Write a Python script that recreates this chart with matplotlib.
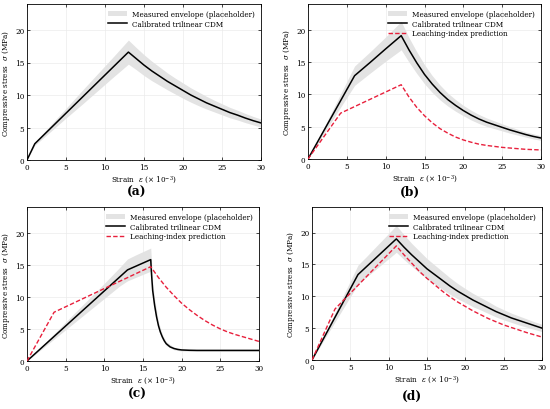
import matplotlib
matplotlib.use("Agg")
import matplotlib.pyplot as plt

# ---------------- data ----------------
# (a)
a_x = [0, 1, 3, 5, 7, 9, 11, 13, 14, 15, 16, 17, 18, 19, 20, 21, 22, 23, 24, 25, 26, 27, 28, 29, 30]
a_cdm = [0, 2.5, 4.85, 7.2, 9.55, 11.9, 14.25, 16.6, 15.6, 14.6, 13.7, 12.9, 12.1, 11.4, 10.7, 10.0,
         9.4, 8.8, 8.3, 7.8, 7.3, 6.9, 6.45, 6.05, 5.7]
a_hi = [0, 2.75, 5.35, 7.95, 10.6, 13.2, 15.8, 18.45, 17.3, 16.2, 15.2, 14.3, 13.4, 12.6, 11.85, 11.1,
        10.45, 9.8, 9.2, 8.65, 8.1, 7.65, 7.15, 6.7, 6.3]
a_lo = [0, 2.25, 4.35, 6.45, 8.5, 10.6, 12.7, 14.75, 13.9, 13.0, 12.2, 11.5, 10.8, 10.15, 9.5, 8.9,
        8.35, 7.85, 7.4, 6.95, 6.5, 6.15, 5.75, 5.4, 5.05]

# (b)
b_x = [0, 2, 4, 6, 8, 10, 12, 13, 14, 15, 16, 17, 18, 19, 20, 21, 22, 23, 24, 25, 26, 27, 28, 29, 30]
b_cdm = [0, 4.3, 8.6, 12.9, 14.95, 17.05, 19.1, 16.9, 14.9, 13.1, 11.6, 10.3, 9.2, 8.3, 7.5, 6.8,
         6.2, 5.7, 5.3, 4.9, 4.5, 4.15, 3.8, 3.5, 3.25]
b_hi = [0, 4.75, 9.6, 14.4, 16.6, 18.9, 21.3, 18.8, 16.6, 14.6, 12.9, 11.45, 10.2, 9.2, 8.3, 7.55,
        6.9, 6.35, 5.9, 5.45, 5.0, 4.6, 4.2, 3.9, 3.6]
b_lo = [0, 3.85, 7.65, 11.4, 13.3, 15.15, 16.9, 15.0, 13.25, 11.65, 10.3, 9.15, 8.2, 7.4, 6.7, 6.05,
        5.5, 5.05, 4.7, 4.35, 4.0, 3.7, 3.4, 3.1, 2.9]
b_lx = [0, 4.2, 12, 13, 14, 15, 16, 17, 18, 19, 20, 21, 22, 23, 24, 25, 26, 27, 28, 29, 30]
b_li = [0, 7.1, 11.5, 9.6, 8.0, 6.7, 5.6, 4.7, 4.0, 3.4, 2.95, 2.6, 2.3, 2.1, 1.95, 1.8, 1.7, 1.6,
        1.5, 1.45, 1.4]

# (c)
c_x = [0, 13, 16, 16.1, 16.25, 16.5, 16.75, 17, 17.25, 17.5, 17.75, 18, 18.5, 19, 19.5, 20, 21, 22,
       24, 26, 28, 30]
c_cdm = [0, 14.2, 15.8, 13.6, 11.0, 8.7, 6.9, 5.5, 4.5, 3.75, 3.15, 2.7, 2.2, 1.95, 1.8, 1.72, 1.67,
         1.65, 1.65, 1.65, 1.65, 1.65]
c_ex = [0, 2, 4, 6, 8, 10, 12, 13, 14, 15, 16, 16.25, 16.5, 17, 17.5, 18, 19, 20, 22, 25, 30]
c_hi = [0, 2.4, 4.85, 7.3, 9.7, 12.1, 14.6, 15.9, 16.5, 17.05, 17.6, 12.3, 9.7, 6.1, 4.15, 3.0, 2.15,
        1.9, 1.8, 1.8, 1.8]
c_lo = [0, 1.95, 3.9, 5.85, 7.8, 9.75, 11.7, 12.5, 13.0, 13.5, 14.0, 9.8, 7.7, 4.9, 3.35, 2.4, 1.75,
        1.55, 1.5, 1.5, 1.5]
c_lx = [0, 3.5, 16, 17, 18, 19, 20, 21, 22, 23, 24, 25, 26, 27, 28, 29, 30]
c_li = [0, 7.6, 14.7, 13.0, 11.5, 10.2, 9.0, 8.0, 7.1, 6.3, 5.6, 5.0, 4.5, 4.1, 3.75, 3.4, 3.05]

# (d)
d_x = [0, 2, 4, 6, 7, 8, 9, 10, 11, 12, 13, 14, 15, 16, 17, 18, 19, 20, 21, 22, 23, 24, 25, 26, 27,
       28, 29, 30]
d_cdm = [0, 4.47, 8.93, 13.4, 14.52, 15.64, 16.76, 17.88, 19.0, 17.7, 16.5, 15.4, 14.3, 13.4, 12.5,
         11.6, 10.8, 10.1, 9.4, 8.8, 8.2, 7.6, 7.1, 6.6, 6.2, 5.8, 5.4, 5.0]
d_hi = [0, 4.95, 9.9, 14.9, 16.1, 17.35, 18.6, 19.85, 21.1, 19.65, 18.3, 17.1, 15.9, 14.9, 13.9,
        12.9, 12.0, 11.2, 10.45, 9.8, 9.15, 8.45, 7.9, 7.35, 6.9, 6.45, 6.0, 5.6]
d_lo = [0, 4.0, 7.95, 11.9, 12.9, 13.9, 14.9, 15.9, 16.9, 15.75, 14.7, 13.7, 12.7, 11.9, 11.1,
        10.3, 9.6, 9.0, 8.35, 7.85, 7.3, 6.75, 6.3, 5.9, 5.5, 5.15, 4.8, 4.45]
d_lx = [0, 3, 11, 12, 13, 14, 15, 16, 17, 18, 19, 20, 21, 22, 23, 24, 25, 26, 27, 28, 29, 30]
d_li = [0, 8.0, 17.9, 16.5, 15.2, 13.9, 12.8, 11.8, 10.8, 9.9, 9.1, 8.4, 7.7, 7.1, 6.5, 6.0, 5.5,
        5.1, 4.7, 4.3, 3.95, 3.6]

x_ticks = [0, 5, 10, 15, 20, 25, 30]
y_ticks = [0, 5, 10, 15, 20]
panel_labels = ["(a)", "(b)", "(c)", "(d)"]
legend_labels = ["Measured envelope (placeholder)", "Calibrated trilinear CDM",
                 "Leaching-index prediction"]

# ---------------- style ----------------
plt.rcParams["font.family"] = ["DejaVu Serif"]
plt.rcParams["mathtext.fontset"] = "dejavuserif"

FS = 5.2
RED = "#e8203c"
BAND = "#e3e3e3"

fig = plt.figure(figsize=(5.5, 4.1), dpi=100)

rects = [
    [27 / 550, 1 - 161 / 410, 234 / 550, 156 / 410],
    [308 / 550, 1 - 160 / 410, 233 / 550, 155 / 410],
    [27 / 550, 1 - 362 / 410, 232 / 550, 154 / 410],
    [312 / 550, 1 - 361 / 410, 230 / 550, 153 / 410],
]
label_pos = [(137, 192), (410, 192), (137, 394), (412, 396)]

panels = [
    (a_x, a_cdm, a_x, a_hi, a_lo, None, None),
    (b_x, b_cdm, b_x, b_hi, b_lo, b_lx, b_li),
    (c_x, c_cdm, c_ex, c_hi, c_lo, c_lx, c_li),
    (d_x, d_cdm, d_x, d_hi, d_lo, d_lx, d_li),
]

for i, (cx, cy, ex, ehi, elo, lx, ly) in enumerate(panels):
    ax = fig.add_axes(rects[i])
    ax.fill_between(ex, elo, ehi, color=BAND, lw=0, label=legend_labels[0], zorder=1)
    ax.plot(cx, cy, color="black", lw=1.1, label=legend_labels[1], zorder=3)
    if lx is not None:
        ax.plot(lx, ly, color=RED, lw=1.0, ls=(0, (3.2, 1.6)), label=legend_labels[2], zorder=4)
    ax.set_xlim(0, 30)
    ax.set_ylim(0, 24)
    ax.set_xticks(x_ticks)
    ax.set_yticks(y_ticks)
    ax.grid(True, color="#ebebeb", lw=0.5, zorder=0)
    ax.set_axisbelow(True)
    ax.tick_params(direction="in", length=2.5, width=0.5, labelsize=FS, pad=2,
                   top=True, right=True)
    for s in ax.spines.values():
        s.set_linewidth(0.6)
    ax.set_xlabel(r"Strain  $\varepsilon$ ($\times$ 10$^{-3}$)", fontsize=FS, labelpad=1.5)
    ax.set_ylabel(r"Compressive stress  $\sigma$ (MPa)", fontsize=FS, labelpad=2)
    ax.legend(loc="upper right", frameon=False, fontsize=FS, handlelength=2.6,
              handleheight=0.6, labelspacing=0.25, borderaxespad=0.4, handletextpad=0.8)
    px, py = label_pos[i]
    fig.text(px / 550, 1 - py / 410, panel_labels[i], ha="center", va="center",
             fontsize=8.8, fontweight="bold")

fig.savefig("out.png", dpi=100)
